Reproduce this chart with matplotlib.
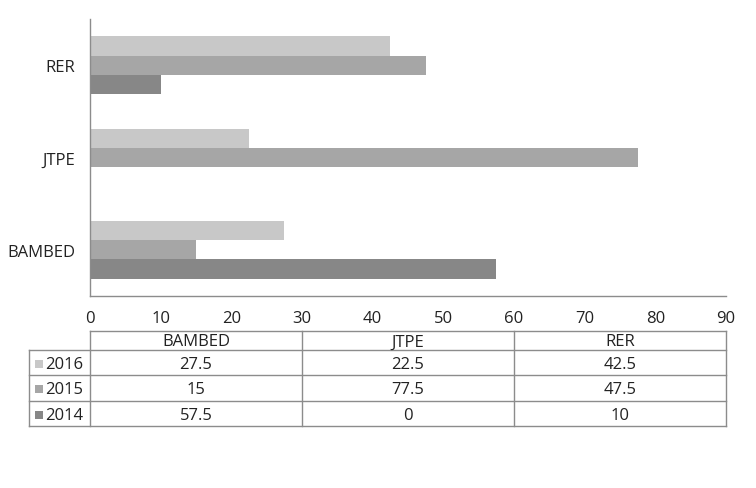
import matplotlib.pyplot as plt
import numpy as np

plt.rcParams['font.family'] = ['Open Sans', 'DejaVu Sans']

# dados
categorias = ['BAMBED', 'JTPE', 'RER']
anos = ['2016', '2015', '2014']
v2016 = [27.5, 22.5, 42.5]
v2015 = [15, 77.5, 47.5]
v2014 = [57.5, 0, 10]
rotulos_tabela = ['27.5', '22.5', '42.5', '15', '77.5', '47.5', '57.5', '0', '10']
cores = ['#c8c8c8', '#a6a6a6', '#878787']
xticks = [0, 10, 20, 30, 40, 50, 60, 70, 80, 90]

W, H = 756, 489
fig = plt.figure(figsize=(W / 100, H / 100), dpi=100)

# eixo do grafico de barras (em pixels)
x0, x1, ytop, ybot = 90, 726, 20, 297
ax = fig.add_axes([x0 / W, (H - ybot) / H, (x1 - x0) / W, (ybot - ytop) / H])

y = np.arange(len(categorias))
h = 0.207
series = [v2016, v2015, v2014]
for i, s in enumerate(series):
    ax.barh(y + h * (1 - i), s, height=h, color=cores[i], linewidth=0)

ax.set_xlim(0, 90)
ax.set_ylim(-0.5, 2.5)
ax.set_yticks(y)
ax.set_yticklabels(categorias)
ax.set_xticks(xticks)
ax.tick_params(length=0, labelsize=12, colors='#222222')
ax.tick_params(axis='x', pad=10)
ax.tick_params(axis='y', pad=10.5)
for lado in ['top', 'right']:
    ax.spines[lado].set_visible(False)
for lado in ['left', 'bottom']:
    ax.spines[lado].set_color('#8c8c8c')
    ax.spines[lado].set_linewidth(1)

# tabela de dados desenhada embaixo
tb = fig.add_axes([0, 0, 1, 1])
tb.set_xlim(0, W)
tb.set_ylim(H, 0)
tb.axis('off')

cor_linha = '#8c8c8c'
cols = [90, 302, 514, 726]
linhas = [332, 351, 376, 402, 427]
tleft = 29

# linhas horizontais
tb.plot([cols[0], cols[-1]], [linhas[0], linhas[0]], color=cor_linha, lw=1)
for yy in linhas[1:]:
    tb.plot([tleft, cols[-1]], [yy, yy], color=cor_linha, lw=1)
# linhas verticais
for xx in cols:
    tb.plot([xx, xx], [linhas[0], linhas[-1]], color=cor_linha, lw=1)
tb.plot([tleft, tleft], [linhas[1], linhas[-1]], color=cor_linha, lw=1)

# cabecalho
for j, c in enumerate(categorias):
    tb.text((cols[j] + cols[j + 1]) / 2, (linhas[0] + linhas[1]) / 2 + 1, c,
            ha='center', va='center', fontsize=12, color='#222222')

# linhas de dados
for i, ano in enumerate(anos):
    yc = (linhas[i + 1] + linhas[i + 2]) / 2 + 1.5
    tb.add_patch(plt.Rectangle((35, yc - 4.5), 8, 8, color=cores[i], lw=0))
    tb.text(45, yc, ano, ha='left', va='center', fontsize=12, color='#222222')
    for j in range(3):
        tb.text((cols[j] + cols[j + 1]) / 2, yc, rotulos_tabela[i * 3 + j],
                ha='center', va='center', fontsize=12, color='#222222')

fig.savefig('out.png', dpi=100)
